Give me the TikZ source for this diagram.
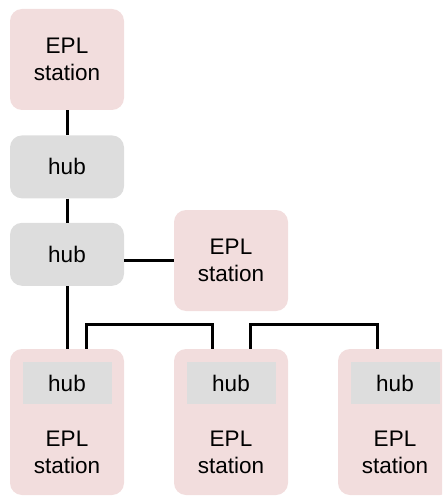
\documentclass[tikz,border=0pt]{standalone}
\usepackage{fontspec}
\setmainfont{Liberation Sans}
\usetikzlibrary{positioning}
\definecolor{eplpink}{RGB}{242,221,221}
\definecolor{hubgray}{RGB}{221,221,221}
\newcommand{\epl}{EPL\\station}

\begin{document}
\begin{tikzpicture}[x=1pt, y=-1pt,
	every node/.style={font=\fontsize{22.5}{27}\selectfont, align=center, inner sep=0pt},
	station/.style={fill=eplpink, rounded corners=12pt, minimum width=114pt},
	hub/.style={fill=hubgray, rounded corners=12pt, minimum width=114pt, minimum height=63pt},
	bar/.style={fill=hubgray, minimum width=89pt, minimum height=42pt},
	link/.style={line width=3pt}]
	\clip (0,0) rectangle (442,497);
	
	% upper chain
	\node[station, minimum height=101pt] (a1) at (67,59.5) {\epl};
	\node[hub, below=25pt of a1] (a2) {hub};
	\node[hub, below=24pt of a2] (a3) {hub};
	\node[station, minimum height=101pt] (b3) at (231,260.5) {\epl};
	
	% bottom row, a hub in each station
	\node[station, minimum height=146pt] (a4) at (67,422) {};
	\node[station, minimum height=146pt] (b4) at (231,422) {};
	\node[station, minimum height=146pt] (c4) at (395,422) {};
	\node[bar, below=13pt of a4.north] (a5) {hub};
	\node[bar, below=13pt of b4.north] (b5) {hub};
	\node[bar, below=13pt of c4.north] (c5) {hub};
	\node (a6) at (67,452) {\epl};
	\node (b6) at (231,452) {\epl};
	\node (c6) at (395,452) {\epl};
	
	\draw[link] (a1) -- (a2);
	\draw[link] (a2) -- (a3);
	\draw[link] (b3.west -| a3.east) -- (b3.west);
	\draw[link] (a3) -- (a4);
	\draw[link] ([xshift=19pt]a4.north) -- ++(0,-24) -| ([xshift=-19pt]b4.north);
	\draw[link] ([xshift=19pt]b4.north) -- ++(0,-24) -| ([xshift=-18pt]c4.north);
\end{tikzpicture}
\end{document}
